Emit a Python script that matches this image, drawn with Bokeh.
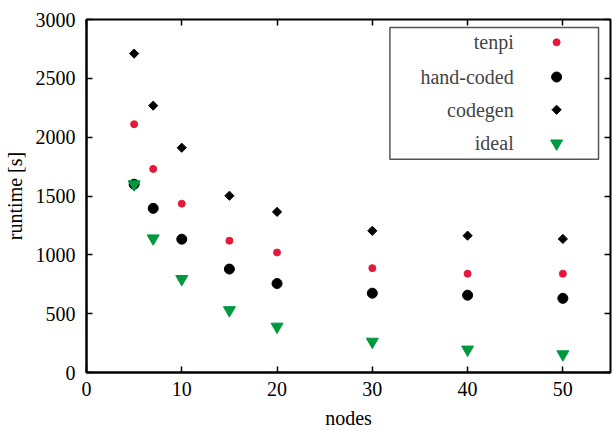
from bokeh.plotting import figure
from bokeh.models import Range1d, Label, LinearAxis, FixedTicker
from bokeh.embed import file_html
from bokeh.resources import INLINE
import math

# ---- data ----
nodes = [5, 7, 10, 15, 20, 30, 40, 50]
tenpi = [2110, 1730, 1435, 1120, 1020, 887, 840, 840]
hand_coded = [1600, 1395, 1133, 879, 756, 674, 657, 630]
codegen = [2710, 2268, 1910, 1502, 1365, 1204, 1163, 1135]
ideal = [1600, 1140, 795, 530, 390, 262, 195, 155]
series_names = ["tenpi", "hand-coded", "codegen", "ideal"]
x_ticks = [0, 10, 20, 30, 40, 50]
y_ticks = [0, 500, 1000, 1500, 2000, 2500, 3000]

RED = "#e4193a"
GREEN = "#00983f"
FONT = "Liberation Serif"

X0, X1, Y0, Y1 = 0, 55, 0, 3000
W, H = 612, 431
BL, BR, BT, BB = 85, 2, 19, 56
FW, FH = W - BL - BR, H - BT - BB

p = figure(width=W, height=H, output_backend="svg", toolbar_location=None,
           x_range=Range1d(X0, X1), y_range=Range1d(Y0, Y1),
           min_border_left=BL, min_border_right=BR, min_border_top=BT,
           min_border_bottom=BB, x_axis_label="nodes", y_axis_label="runtime [s]")
p.grid.visible = False
p.outline_line_color = "black"
p.outline_line_width = 2
p.background_fill_color = "white"
p.border_fill_color = "white"

# mirror ticks (no labels)
top = LinearAxis(ticker=FixedTicker(ticks=x_ticks),
                 major_label_overrides={t: "" for t in x_ticks})
right = LinearAxis(ticker=FixedTicker(ticks=y_ticks),
                   major_label_overrides={t: "" for t in y_ticks})
p.add_layout(top, "above")
p.add_layout(right, "right")

for ax in p.axis:
    ax.axis_line_color = "black"
    ax.axis_line_width = 2
    ax.major_tick_in = 6
    ax.major_tick_out = 0
    ax.major_tick_line_width = 1.5
    ax.major_tick_line_color = "black"
    ax.minor_tick_line_color = None
    ax.major_label_text_font = FONT
    ax.major_label_text_font_size = "20px"
    ax.major_label_text_color = "black"
    ax.axis_label_text_font = FONT
    ax.axis_label_text_font_size = "20px"
    ax.axis_label_text_font_style = "normal"
    ax.axis_label_text_color = "black"
top.axis_line_color = None
right.axis_line_color = None
top.major_label_standoff = 0
right.major_label_standoff = 0

xa, ya = p.below[0], p.left[0]
xa.ticker = FixedTicker(ticks=x_ticks)
ya.ticker = FixedTicker(ticks=y_ticks)
xa.major_label_standoff = 9
ya.major_label_standoff = 11
xa.axis_label_standoff = 8
ya.axis_label_standoff = 7

# page pixel -> data helpers (legend placement)
def dx(px):
    return X0 + (px - BL) / FW * (X1 - X0)

def dy(py):
    return Y0 + (H - BB - py) / FH * (Y1 - Y0)

# data marks
p.scatter(nodes, tenpi, marker="circle", size=7, color=RED)
p.scatter(nodes, hand_coded, marker="circle", size=10, color="black")
p.scatter(nodes, codegen, marker="square", size=6.5, angle=math.pi / 4, color="black")
p.scatter(nodes, ideal, marker="inverted_triangle", size=12, color=GREEN)

# legend
p.quad(left=[dx(389)], right=[dx(598)], top=[dy(27)], bottom=[dy(160)],
       fill_alpha=0, line_color="#555555", line_width=1.5)
row_y = [42, 77, 110, 144]
specs = [("circle", 7, RED, 0), ("circle", 10, "black", 0),
         ("square", 6.5, "black", math.pi / 4), ("inverted_triangle", 12, GREEN, 0)]
for name, yy, (mk, sz, col, ang) in zip(series_names, row_y, specs):
    p.add_layout(Label(x=dx(513), y=dy(yy), text=name, text_align="right",
                       text_baseline="middle", text_font=FONT,
                       text_font_size="20px"))
    p.scatter([dx(556)], [dy(yy)], marker=mk, size=sz, color=col, angle=ang)

open("out.html", "w").write(file_html(p, INLINE))
